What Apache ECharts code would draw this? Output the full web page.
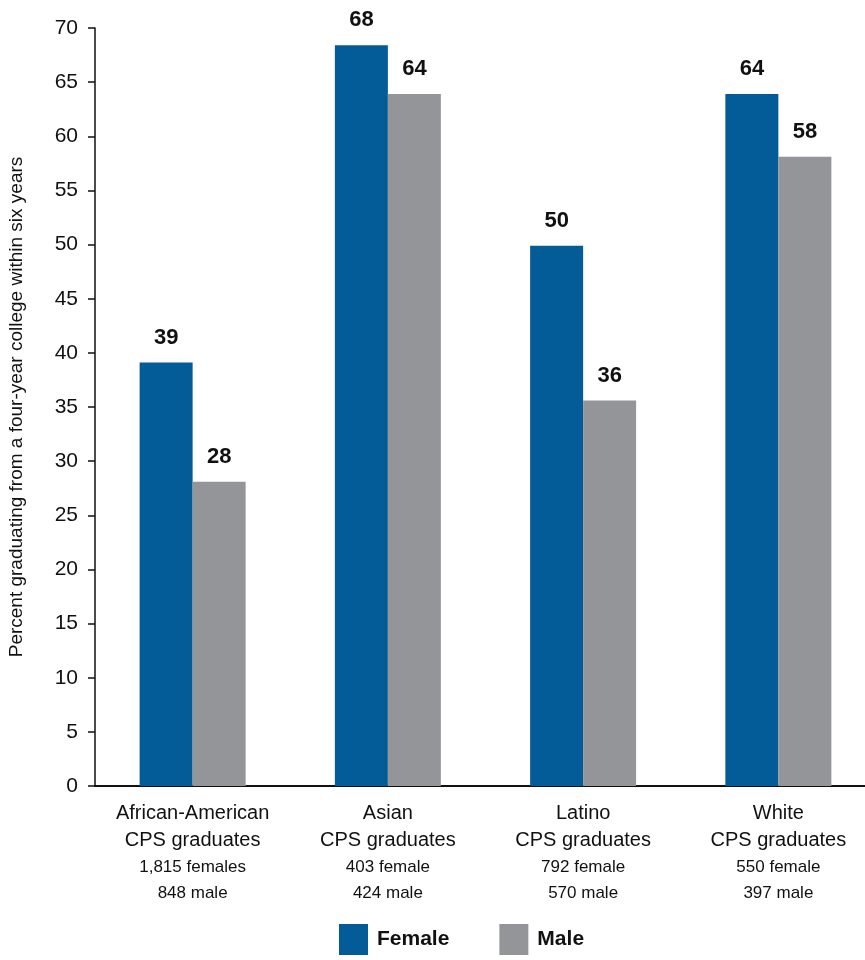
<!DOCTYPE html>
<html><head><meta charset="utf-8">
<script src="https://cdn.jsdelivr.net/npm/echarts@6/dist/echarts.min.js"></script>
<style>html,body{margin:0;padding:0;background:#fff}#c{width:865px;height:960px}</style>
</head><body><div id="c"></div>
<script>
const groups = ['African-American', 'Asian', 'Latino', 'White'];
const counts = [['1,815 females', '848 male'], ['403 female', '424 male'], ['792 female', '570 male'], ['550 female', '397 male']];
const female = [39.1, 68.4, 49.9, 63.9];
const male = [28.1, 63.9, 35.6, 58.1];
const yTicks = [0, 5, 10, 15, 20, 25, 30, 35, 40, 45, 50, 55, 60, 65, 70];
const FONT = '"Liberation Sans Narrow", "Liberation Sans", Arial, sans-serif';

const chart = echarts.init(document.getElementById('c'));
const lbl = {
  show: true, position: 'top', distance: 14,
  formatter: p => Math.round(p.value),
  fontFamily: FONT, fontWeight: 'bold', fontSize: 22, color: '#111'
};
chart.setOption({
  animation: false,
  textStyle: { fontFamily: FONT },
  grid: { left: 95, top: 28, width: 781, bottom: 174, containLabel: false, outerBoundsMode: 'none' },
  legend: {
    left: 334, bottom: 0, itemWidth: 29, itemHeight: 31, itemGap: 50,
    icon: 'rect',
    textStyle: { fontFamily: FONT, fontWeight: 'bold', fontSize: 21, color: '#111', padding: [0, 0, 0, 4] },
    data: ['Female', 'Male']
  },
  xAxis: {
    type: 'category', data: groups,
    axisLine: { lineStyle: { color: '#111', width: 2 } },
    axisTick: { show: false },
    axisLabel: {
      margin: 14, interval: 0,
      formatter: (v, i) => '{a|' + v + '}\n{a|CPS graduates}\n{b|' + counts[i][0] + '}\n{b|' + counts[i][1] + '}',
      rich: {
        a: { fontFamily: FONT, fontSize: 20, color: '#111', lineHeight: 27 },
        b: { fontFamily: FONT, fontSize: 17, color: '#111', lineHeight: 26 }
      }
    }
  },
  yAxis: {
    type: 'value', min: 0, max: 70, interval: 5,
    name: 'Percent graduating from a four-year college within six years',
    nameLocation: 'middle', nameGap: 69, nameRotate: 90,
    nameTextStyle: { fontFamily: FONT, fontSize: 19, color: '#111' },
    axisLine: { show: true, lineStyle: { color: '#111', width: 1.5 } },
    axisTick: { show: true, length: 7, lineStyle: { color: '#111', width: 1.5 } },
    axisLabel: {
      margin: 17, fontFamily: FONT, fontSize: 21, color: '#111',
      formatter: v => yTicks.includes(v) ? String(v) : ''
    },
    splitLine: { show: false }
  },
  series: [
    { name: 'Female', type: 'bar', data: female, barWidth: 53, barGap: '0%',
      itemStyle: { color: '#035B97' }, label: lbl },
    { name: 'Male', type: 'bar', data: male, barWidth: 53,
      itemStyle: { color: '#939598' }, label: lbl }
  ]
});
</script></body></html>
